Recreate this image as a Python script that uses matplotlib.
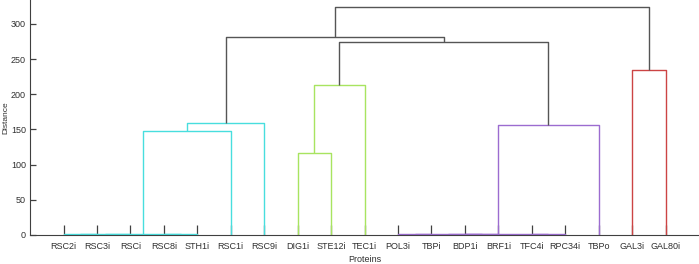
import matplotlib
matplotlib.use("Agg")
import matplotlib.pyplot as plt

# hojas del dendrograma, en orden
etiquetas = ["RSC2i", "RSC3i", "RSCi", "RSC8i", "STH1i", "RSC1i", "RSC9i",
             "DIG1i", "STE12i", "TEC1i", "POL3i", "TBPi", "BDP1i", "BRF1i",
             "TFC4i", "RPC34i", "TBPo", "GAL3i", "GAL80i"]

# uniones: (hijo a, hijo b, distancia); nodo nuevo = 19, 20, ...
hijo_a = [0, 19, 3, 20, 22, 23, 7, 25, 10, 12, 27, 14, 29, 31, 26, 17, 24, 35]
hijo_b = [1, 2, 4, 21, 5, 6, 8, 9, 11, 13, 28, 15, 30, 16, 32, 18, 33, 34]
alturas = [0.8, 1.2, 1.0, 2.0, 148, 159, 117, 213, 0.8, 1.0, 1.5, 1.0, 2.0,
           156, 275, 235, 282, 324]
grupo = ["c", "c", "c", "c", "c", "c", "g", "g", "p", "p", "p", "p", "p",
         "p", "k", "r", "k", "k"]

colores = {"c": "#48dede", "g": "#a8e460", "p": "#9c6cd0",
           "r": "#cc4444", "k": "#555555"}

n = len(etiquetas)
xpos = {i: i + 1 for i in range(n)}
ypos = {i: 0 for i in range(n)}

fig = plt.figure(figsize=(6.99, 2.64), dpi=100)
ax = fig.add_axes([0.043, 0.11, 0.957, 0.89])

for k in range(len(alturas)):
    a = hijo_a[k]
    b = hijo_b[k]
    h = alturas[k]
    c = colores[grupo[k]]
    ax.plot([xpos[a], xpos[a], xpos[b], xpos[b]], [ypos[a], h, h, ypos[b]],
            color=c, linewidth=1.0, solid_capstyle="butt")
    nuevo = n + k
    xpos[nuevo] = (xpos[a] + xpos[b]) / 2
    ypos[nuevo] = h

ax.set_xlim(0, n + 1)
ax.set_ylim(0, 334)
ax.set_xticks(range(1, n + 1))
ax.set_xticklabels(etiquetas)
ax.set_yticks([0, 50, 100, 150, 200, 250, 300])

fuente = ["Liberation Sans", "DejaVu Sans"]
for t in ax.get_xticklabels() + ax.get_yticklabels():
    t.set_family(fuente)
    t.set_fontsize(6.5)
    t.set_color("#303030")

ax.tick_params(axis="x", direction="in", length=7, width=0.9, color="#404040", pad=5)
ax.tick_params(axis="y", direction="in", length=4.5, width=0.9, color="#404040", pad=3)

ax.spines["top"].set_visible(False)
ax.spines["right"].set_visible(False)
ax.spines["left"].set_color("#404040")
ax.spines["bottom"].set_color("#404040")

ax.set_xlabel("Proteins", family=fuente, fontsize=6.5, color="#303030", labelpad=3)
fig.text(0.008, 0.556, "Distance", rotation=90, ha="center", va="center",
         family=fuente, fontsize=6, color="#303030")

plt.savefig("out.png", dpi=100)
